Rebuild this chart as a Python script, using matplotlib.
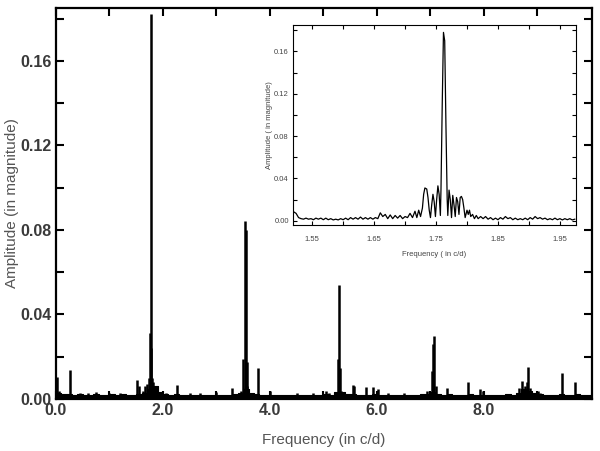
import numpy as np
import matplotlib.pyplot as plt

# main spectrum: noise floor per 0.1 c/d bin (0.0 ... 9.9)
floor_amp = [0.0030, 0.0025, 0.0022, 0.0020, 0.0022, 0.0018, 0.0020, 0.0022, 0.0020, 0.0018,
             0.0022, 0.0020, 0.0022, 0.0020, 0.0018, 0.0025, 0.0030, 0.0045, 0.0060, 0.0035,
             0.0025, 0.0020, 0.0022, 0.0018, 0.0020, 0.0018, 0.0020, 0.0018, 0.0020, 0.0018,
             0.0020, 0.0018, 0.0020, 0.0022, 0.0030, 0.0045, 0.0030, 0.0022, 0.0020, 0.0018,
             0.0020, 0.0018, 0.0020, 0.0018, 0.0018, 0.0020, 0.0018, 0.0018, 0.0020, 0.0018,
             0.0025, 0.0020, 0.0035, 0.0035, 0.0022, 0.0025, 0.0020, 0.0020, 0.0018, 0.0022,
             0.0020, 0.0018, 0.0020, 0.0018, 0.0020, 0.0018, 0.0018, 0.0020, 0.0022, 0.0025,
             0.0035, 0.0025, 0.0020, 0.0022, 0.0018, 0.0020, 0.0018, 0.0022, 0.0018, 0.0020,
             0.0018, 0.0018, 0.0020, 0.0018, 0.0022, 0.0018, 0.0030, 0.0045, 0.0040, 0.0030,
             0.0022, 0.0020, 0.0018, 0.0020, 0.0022, 0.0020, 0.0018, 0.0022, 0.0020, 0.0018]

# main spectrum: spikes (frequency in c/d, amplitude)
spike_freq = [0.02, 0.05, 0.26, 0.45, 0.60, 0.75, 1.00, 1.20, 1.51, 1.55, 1.62, 1.66, 1.70, 1.74,
              1.755, 1.768, 1.78, 1.79, 1.82, 1.85, 2.05, 2.27, 2.50, 2.70, 3.00, 3.29, 3.45,
              3.50, 3.53, 3.55, 3.565, 3.58, 3.78, 4.00, 4.50, 4.80, 5.05, 5.10, 5.275, 5.295,
              5.31, 5.33, 5.55, 5.57, 5.79, 5.93, 6.02, 6.20, 6.50, 6.93, 7.03, 7.05, 7.065,
              7.10, 7.30, 7.70, 7.93, 7.99, 8.65, 8.71, 8.76, 8.80, 8.82, 8.86, 9.01, 9.05,
              9.45, 9.71]
spike_amp = [0.0104, 0.0040, 0.0135, 0.0030, 0.0030, 0.0035, 0.0030, 0.0030, 0.0090, 0.0060,
             0.0040, 0.0060, 0.0070, 0.0100, 0.0310, 0.1820, 0.0240, 0.0100, 0.0080, 0.0050,
             0.0030, 0.0065, 0.0030, 0.0030, 0.0035, 0.0050, 0.0040, 0.0190, 0.0840, 0.0800,
             0.0175, 0.0060, 0.0148, 0.0040, 0.0030, 0.0030, 0.0040, 0.0030, 0.0190, 0.0540,
             0.0145, 0.0040, 0.0066, 0.0060, 0.0057, 0.0055, 0.0045, 0.0030, 0.0030, 0.0040,
             0.0134, 0.0260, 0.0300, 0.0060, 0.0050, 0.0080, 0.0045, 0.0040, 0.0050, 0.0087,
             0.0060, 0.0080, 0.0153, 0.0050, 0.0040, 0.0030, 0.0125, 0.0080]

# inset: zoom around the main peak
inset_freq = ([1.520 + 0.004 * i for i in range(50)] +
              [1.719, 1.722, 1.725, 1.728, 1.730, 1.732, 1.735, 1.737, 1.739, 1.741, 1.743,
               1.745, 1.747, 1.749, 1.751, 1.753, 1.755, 1.757, 1.758, 1.760, 1.762, 1.764,
               1.766, 1.768, 1.769, 1.771, 1.773, 1.775, 1.777, 1.779, 1.781, 1.783, 1.785,
               1.787, 1.789, 1.791, 1.793, 1.795, 1.797, 1.800, 1.802, 1.804, 1.806, 1.809,
               1.812, 1.815, 1.818] +
              [1.822 + 0.004 * i for i in range(39)])
inset_amp = ([0.0085, 0.0070, 0.0030, 0.0020, 0.0015, 0.0025, 0.0015, 0.0020, 0.0010, 0.0025,
              0.0015, 0.0025, 0.0010, 0.0025, 0.0010, 0.0020, 0.0008, 0.0015, 0.0008, 0.0020,
              0.0010, 0.0025, 0.0010, 0.0030, 0.0015, 0.0030, 0.0015, 0.0035, 0.0015, 0.0030,
              0.0015, 0.0030, 0.0015, 0.0030, 0.0020, 0.0075, 0.0040, 0.0060, 0.0020, 0.0055,
              0.0020, 0.0050, 0.0025, 0.0050, 0.0020, 0.0040, 0.0030, 0.0070, 0.0030, 0.0090] +
             [0.0030, 0.0100, 0.0040, 0.0120, 0.0250, 0.0310, 0.0300, 0.0220, 0.0100, 0.0030,
              0.0150, 0.0250, 0.0180, 0.0040, 0.0200, 0.0330, 0.0250, 0.0050, 0.0300, 0.1100,
              0.1780, 0.1700, 0.0900, 0.0200, 0.0050, 0.0290, 0.0200, 0.0030, 0.0240, 0.0150,
              0.0040, 0.0220, 0.0180, 0.0060, 0.0220, 0.0230, 0.0200, 0.0120, 0.0030, 0.0100,
              0.0060, 0.0100, 0.0040, 0.0060, 0.0020, 0.0050, 0.0020] +
             [0.0040, 0.0020, 0.0040, 0.0015, 0.0030, 0.0010, 0.0025, 0.0010, 0.0030, 0.0015,
              0.0040, 0.0020, 0.0030, 0.0010, 0.0025, 0.0010, 0.0020, 0.0010, 0.0025, 0.0010,
              0.0030, 0.0015, 0.0040, 0.0020, 0.0030, 0.0015, 0.0025, 0.0010, 0.0020, 0.0010,
              0.0025, 0.0010, 0.0020, 0.0008, 0.0020, 0.0010, 0.0020, 0.0008, 0.0015])

plt.rcParams['font.family'] = ['Liberation Sans', 'DejaVu Sans']
txt = '#3a3a3a'

fig = plt.figure(figsize=(6, 4.51), dpi=100)
ax = fig.add_axes([0.0933, 0.1153, 0.8934, 0.867])

# noise floor + spikes
floor_x = np.arange(len(floor_amp)) * 0.1
ax.fill_between(np.append(floor_x, 10.0), np.append(floor_amp, floor_amp[-1]), 0,
                step='post', color='black', lw=0.8)
ax.vlines(spike_freq, 0, spike_amp, color='black', lw=1.8)

xt = np.arange(0, 10, 1.0)
yt = np.arange(0, 0.181, 0.02)
ax.set_xlim(0, 10.02)
ax.set_ylim(0, 0.185)
ax.set_xticks(xt)
ax.set_xticklabels(['%.1f' % v if i % 2 == 0 else '' for i, v in enumerate(xt)])
ax.set_yticks(yt)
ax.set_yticklabels(['%.2f' % v if i % 2 == 0 else '' for i, v in enumerate(yt)])
ax.tick_params(direction='in', length=6, width=1.5, top=True, right=True,
               labelsize=11.5, labelcolor=txt, pad=3)
for s in ax.spines.values():
    s.set_linewidth(1.6)
for lab in ax.get_xticklabels() + ax.get_yticklabels():
    lab.set_fontweight('bold')
ax.set_xlabel('Frequency (in c/d)', fontsize=11, color='#555555', labelpad=11)
ax.set_ylabel('Amplitude (in magnitude)', fontsize=11, color='#555555', labelpad=1)

# inset
ins = fig.add_axes([0.4883, 0.5011, 0.4717, 0.4435])
ins.plot(inset_freq, inset_amp, color='black', lw=0.9)
it = np.arange(1.55, 1.96, 0.05)
ins.set_xlim(1.519, 1.976)
ins.set_ylim(-0.004, 0.185)
ins.set_xticks(it)
ins.set_xticklabels(['%.2f' % v if i % 2 == 0 else '' for i, v in enumerate(it)])
ins.set_yticks(yt)
ins.set_yticklabels(['%.2f' % v if i % 2 == 0 else '' for i, v in enumerate(yt)])
ins.tick_params(direction='in', length=3, width=0.8, top=True, right=True,
                labelsize=5.5, labelcolor='#444444', pad=3)
ins.tick_params(axis='x', pad=8)
for s in ins.spines.values():
    s.set_linewidth(0.8)
ins.set_xlabel('Frequency ( in c/d)', fontsize=5.5, color='#444444', labelpad=6)
ins.set_ylabel('Amplitude ( in magnitude)', fontsize=5.5, color='#444444', labelpad=1)

fig.savefig('out.png', dpi=100)
